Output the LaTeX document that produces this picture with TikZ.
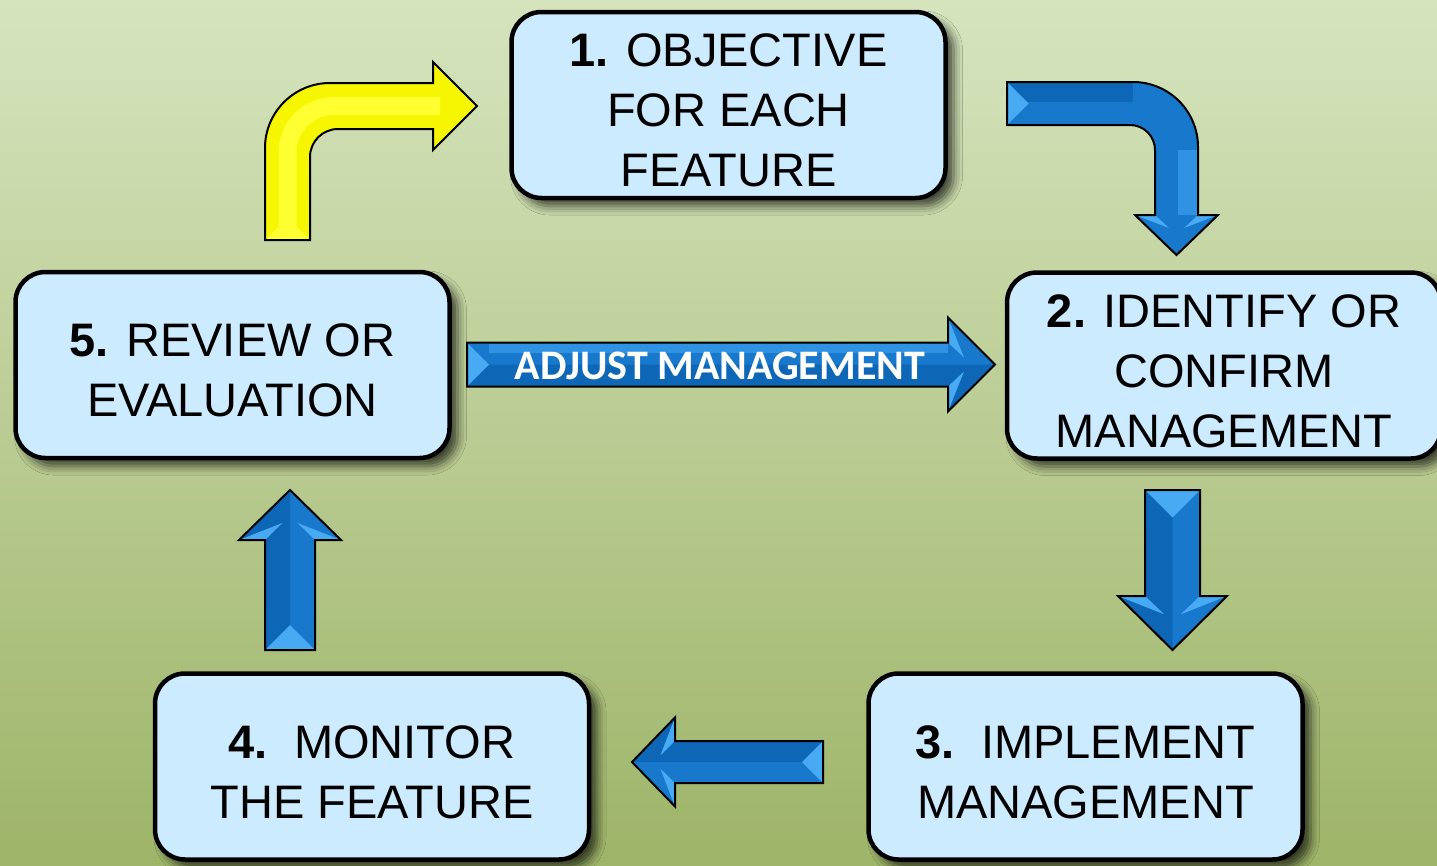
\documentclass[tikz,border=0pt]{standalone}
\usepackage{xcolor}
\usepackage{fontspec}
\setmainfont{Liberation Sans}
\newfontfamily\calfont{Carlito}
\usepackage{tikz}
\usetikzlibrary{positioning,calc,shadows.blur}

\definecolor{bgtop}{RGB}{214,228,190}
\definecolor{bgbot}{RGB}{158,180,104}
\definecolor{boxfill}{RGB}{204,235,255}
\definecolor{arrowblue}{RGB}{24,120,204}
\definecolor{arrowdark}{RGB}{14,102,182}
\definecolor{arrowlight}{RGB}{72,170,242}
\definecolor{arrowsoft}{RGB}{48,146,226}
\definecolor{yellowfill}{RGB}{246,246,0}
\definecolor{yellowlight}{RGB}{255,255,50}

\begin{document}
\begin{tikzpicture}[
			x = 1pt, y = -1pt,
			box/.style = {draw = black, line width = 4.5, rounded corners = 30, fill = boxfill,
				minimum width = 434, minimum height = 186, inner sep = 0, align = center,
				font = \fontsize{47}{60}\selectfont,
				blur shadow = {shadow xshift = 8pt, shadow yshift = -8pt, shadow blur radius = 9pt, shadow opacity = 70}},
			arrowline/.style = {draw = black, line width = 2, line join = miter}
			]

			\def\up{\rule{0pt}{44pt}}
			\def\flatarrow#1#2#3#4#5{
				\fill[arrowblue] (0,-#2) -- ({#1-#4},-#2) -- ({#1-#4},-#3) -- (#1,0) -- ({#1-#4},#3) -- ({#1-#4},#2) -- (0,#2) -- cycle;
				\fill[arrowdark] (0,0) -- (#1,0) -- ({#1-#4},{#5*#3}) -- ({#1-#4},{#5*#2}) -- (0,{#5*#2}) -- cycle;
				\fill[arrowlight] (0,-#2) -- (0,#2) -- (#2,0) -- cycle;
				\fill[arrowlight] ({#1-#4},-#3) -- ({#1-#4},-#2) -- ({#1-0.66*#4},{-0.15*#3}) -- cycle;
				\fill[arrowlight] ({#1-#4},#3) -- ({#1-#4},#2) -- ({#1-0.66*#4},{0.15*#3}) -- cycle;
				\draw[arrowline] (0,-#2) -- ({#1-#4},-#2) -- ({#1-#4},-#3) -- (#1,0) -- ({#1-#4},#3) -- ({#1-#4},#2) -- (0,#2) -- cycle;
			}

			\useasboundingbox (0,0) rectangle (1437,865);
			\fill[top color = bgtop, bottom color = bgbot] (0,0) rectangle (1437,865);

			\node[box] (obj) at (728.5,105) {\up\textbf{1.} OBJECTIVE\\FOR EACH\\FEATURE};
			\node[box] (ident) at (1224,365.5) {\up\textbf{2.} IDENTIFY OR\\CONFIRM\\MANAGEMENT};
			\node[box] (impl) at (1085.5,766.5) {\up\textbf{3.}\ \ IMPLEMENT\\MANAGEMENT};
			\node[box] (mon) at (372,766.5) {\up\textbf{4.}\ \ MONITOR\\THE FEATURE};
			\node[box] (rev) at (232.5,365) {\up\textbf{5.} REVIEW OR\\EVALUATION};

			\coordinate (tdown) at (1172.5,490);
			\coordinate (tleft) at (823,762);
			\coordinate (tup) at (290,650);
			\coordinate (tright) at (467,364.5);

			\begin{scope}[shift = {(tdown)}, rotate = -90]
				\flatarrow{160}{27.5}{54.5}{54}{1}
			\end{scope}
			\begin{scope}[shift = {(tleft)}, rotate = 180]
				\flatarrow{191}{21}{44.5}{43}{1}
			\end{scope}
			\begin{scope}[shift = {(tup)}, rotate = 90]
				\flatarrow{160}{25}{51}{50}{-1}
			\end{scope}
			\begin{scope}[shift = {(tright)}]
				\flatarrow{528}{22}{47}{47}{1}
				\fill[arrowsoft] (22,-21) -- (481,-21) -- (481,-12) -- (22,-12) -- cycle;
			\end{scope}
			\node[font = \calfont\fontsize{42}{50}\selectfont\bfseries, text = white] (adj) at (720,366) {ADJUST MANAGEMENT};

			\fill[yellowfill] (265,240) -- (265,148) .. controls (265,112.1) and (294.1,83) .. (330,83) -- (433,83) -- (433,62) -- (477,106) -- (433,150) -- (433,129) -- (338,129) .. controls (322.5,129) and (310,141.5) .. (310,157) -- (310,240) -- cycle;
			\draw[yellowlight, line width = 18] (287.5,240) -- (287.5,152.5) .. controls (287.5,126.8) and (308.3,106) .. (334,106) -- (440,106);
			\fill[yellowlight] (265,240) -- (310,240) -- (287.5,217) -- cycle;
			\draw[arrowline] (265,240) -- (265,148) .. controls (265,112.1) and (294.1,83) .. (330,83) -- (433,83) -- (433,62) -- (477,106) -- (433,150) -- (433,129) -- (338,129) .. controls (322.5,129) and (310,141.5) .. (310,157) -- (310,240) -- cycle;

			\fill[arrowblue] (1007,82) -- (1133,82) .. controls (1168.9,82) and (1198,111.1) .. (1198,147) -- (1198,215) -- (1218,215) -- (1176.5,255) -- (1135,215) -- (1155,215) -- (1155,150) .. controls (1155,136.2) and (1143.8,125) .. (1130,125) -- (1007,125) -- cycle;
			\draw[arrowdark, line width = 20] (1007,92) -- (1133,92);
			\draw[arrowsoft, line width = 20] (1188,150) -- (1188,215);
			\fill[arrowlight] (1007,82) -- (1007,125) -- (1028.5,103.5) -- cycle;
			\fill[arrowlight] (1135,215) -- (1155,215) -- (1169,228) -- cycle;
			\fill[arrowlight] (1218,215) -- (1198,215) -- (1184,228) -- cycle;
			\draw[arrowline] (1007,82) -- (1133,82) .. controls (1168.9,82) and (1198,111.1) .. (1198,147) -- (1198,215) -- (1218,215) -- (1176.5,255) -- (1135,215) -- (1155,215) -- (1155,150) .. controls (1155,136.2) and (1143.8,125) .. (1130,125) -- (1007,125) -- cycle;

		\end{tikzpicture}
\end{document}
